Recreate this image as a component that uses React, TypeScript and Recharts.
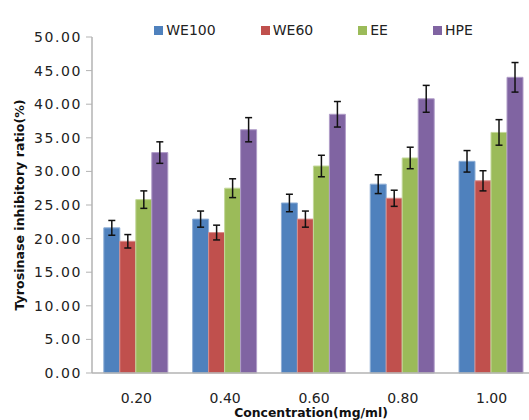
import { BarChart, Bar, XAxis, YAxis, Legend, ErrorBar } from 'recharts'

const CATEGORIES = ['0.20', '0.40', '0.60', '0.80', '1.00']
const WE100 = [21.6, 22.9, 25.3, 28.1, 31.5]
const WE60 = [19.6, 20.9, 22.9, 26.0, 28.6]
const EE = [25.8, 27.5, 30.8, 32.0, 35.8]
const HPE = [32.8, 36.2, 38.5, 40.8, 44.0]
const WE100_ERR = [1.1, 1.2, 1.3, 1.4, 1.6]
const WE60_ERR = [1.0, 1.1, 1.2, 1.2, 1.5]
const EE_ERR = [1.3, 1.4, 1.6, 1.6, 1.9]
const HPE_ERR = [1.6, 1.8, 1.9, 2.0, 2.2]
const Y_TICKS = [0, 5, 10, 15, 20, 25, 30, 35, 40, 45, 50]

const SERIES = [
  { key: 'we100', name: 'WE100', fill: '#4f81bd', edge: '#8eaed6' },
  { key: 'we60', name: 'WE60', fill: '#c0504d', edge: '#d98e8c' },
  { key: 'ee', name: 'EE', fill: '#9bbb59', edge: '#c3d89a' },
  { key: 'hpe', name: 'HPE', fill: '#8064a2', edge: '#b09dc8' },
]

const FONT = '"DejaVu Sans", Verdana, sans-serif'
const AXIS = '#b3b3b3'

const data = CATEGORIES.map((c, i) => ({
  conc: c,
  we100: WE100[i], we100Err: WE100_ERR[i],
  we60: WE60[i], we60Err: WE60_ERR[i],
  ee: EE[i], eeErr: EE_ERR[i],
  hpe: HPE[i], hpeErr: HPE_ERR[i],
}))

function LegendRow() {
  return (
    <div style={{ display: 'flex', justifyContent: 'center', fontFamily: FONT, fontSize: 14, color: '#222' }}>
      {SERIES.map((s, i) => (
        <div key={s.key} style={{ display: 'flex', alignItems: 'center', marginRight: i < SERIES.length - 1 ? 45 : 0 }}>
          <span style={{ width: 9, height: 9, background: s.fill, marginRight: 3, display: 'inline-block' }} />
          <span>{s.name}</span>
        </div>
      ))}
    </div>
  )
}

function YTitle(props: any) {
  const vb = props.viewBox || {}
  const x = 19
  const y = vb.y + vb.height / 2
  return (
    <text x={x} y={y} transform={`rotate(-90 ${x} ${y})`} textAnchor="middle" dominantBaseline="central"
      style={{ fontFamily: FONT, fontSize: 12.6, fontWeight: 'bold', fill: '#111' }}>
      Tyrosinase inhibitory ratio(%)
    </text>
  )
}

function XTitle(props: any) {
  const vb = props.viewBox || {}
  const x = vb.x + vb.width / 2 - 3
  return (
    <text x={x} y={417} textAnchor="middle" style={{ fontFamily: FONT, fontSize: 12.4, fontWeight: 'bold', fill: '#111' }}>
      Concentration(mg/ml)
    </text>
  )
}

export default function App() {
  return (
    <div style={{ position: 'absolute', left: 0, top: 0, width: 529, height: 420, overflow: 'hidden', background: '#fff' }}>
      <BarChart width={536} height={420} data={data} margin={{ top: 21, right: 0, bottom: 0, left: 0 }}
        barCategoryGap="13.3%" barGap={0}>
        <XAxis dataKey="conc" height={47} axisLine={{ stroke: AXIS, strokeWidth: 1.5 }} tickLine={false}
          tick={{ fontFamily: FONT, fontSize: 14, fill: '#222' }} tickMargin={14} label={<XTitle />} />
        <YAxis domain={[0, 50]} ticks={Y_TICKS} width={92} interval={0}
          tickFormatter={(v: number) => v.toFixed(2)}
          axisLine={{ stroke: AXIS, strokeWidth: 1.5 }} tickLine={{ stroke: AXIS }} tickSize={6} tickMargin={4}
          tick={{ fontFamily: FONT, fontSize: 14, fill: '#222', letterSpacing: 1.6 }} label={<YTitle />} />
        <Legend verticalAlign="top" content={<LegendRow />}
          wrapperStyle={{ top: 22, left: 92, width: 443 }} />
        {SERIES.map(s => (
          <Bar key={s.key} dataKey={s.key} name={s.name} fill={s.fill} stroke={s.edge} strokeWidth={1} isAnimationActive={false}>
            <ErrorBar dataKey={`${s.key}Err`} width={3.5} stroke="#111" strokeWidth={1.5} direction="y" />
          </Bar>
        ))}
      </BarChart>
    </div>
  )
}
